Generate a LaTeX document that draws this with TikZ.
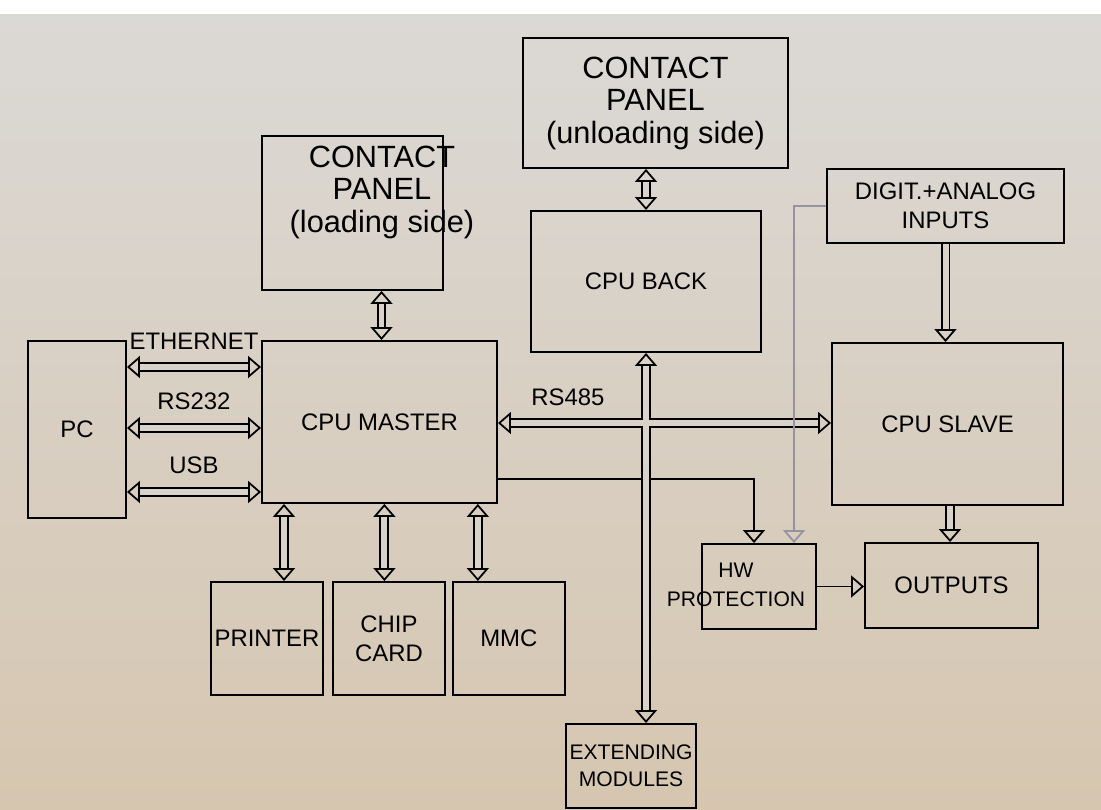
\documentclass[tikz,border=0pt]{standalone}
\usepackage{fontspec}
\setmainfont{Liberation Sans}
\usetikzlibrary{arrows.meta,positioning}

\definecolor{papertop}{RGB}{219,217,214}
\definecolor{papermid}{RGB}{217,210,200}
\definecolor{paperbot}{RGB}{214,198,176}
\definecolor{wire}{RGB}{150,146,160}

\begin{document}
\begin{tikzpicture}[
  x=0.02cm, y=-0.02cm,
  hollow/.tip={Triangle[open, length=0.26cm, width=0.44cm, line width=1pt]},
  box/.style={draw, line width=1.1pt, inner sep=2pt, align=center, font=\fontsize{13.6}{16.5}\selectfont},
  big/.style={align=center, font=\fontsize{17.5}{18.5}\selectfont},
  bus/.style={double=papermid, double distance=3.4pt, line width=1.1pt},
  darr/.style={bus, {hollow}-{hollow}},
  sbus/.style={bus, -{hollow}},
  sarr/.style={line width=1.1pt, -{hollow}},
  lbl/.style={font=\fontsize{13.6}{16}\selectfont}
]
\useasboundingbox (0,0) rectangle (1101,810);
\shade[top color=papertop, bottom color=paperbot] (0,0) rectangle (1101,810);
\fill[white] (0,0) rectangle (1101,14);

% boxes
\node[box, minimum width=1.96cm, minimum height=3.54cm] (pc) at (77,429.5) {PC};
\node[box, minimum width=4.7cm, minimum height=3.24cm] (master) at (379.5,422) {CPU MASTER};
\node[box, minimum width=3.62cm, minimum height=3.08cm] (loadpanel) at (352.5,213) {};
\node[big] (loadtext) at (382,192) {CONTACT\\PANEL\\(loading side)};
\node[box, big, minimum width=5.3cm, minimum height=2.6cm] (unloadpanel) at (655.5,103) {CONTACT\\PANEL\\(unloading side)};
\node[box, minimum width=4.6cm, minimum height=2.82cm] (back) at (646,281.5) {CPU BACK};
\node[box, minimum width=4.74cm, minimum height=1.48cm] (inputs) at (945.5,206) {DIGIT.+ANALOG\\INPUTS};
\node[box, minimum width=4.62cm, minimum height=3.24cm] (slave) at (947.5,424) {CPU SLAVE};
\node[box, minimum width=2.28cm, minimum height=1.7cm] (hw) at (759,586.5) {};
\node[align=center, font=\fontsize{12}{16.5}\selectfont] (hwtext) at (736,585) {HW\\PROTECTION};
\node[box, minimum width=3.46cm, minimum height=1.7cm] (outputs) at (951.5,585.5) {OUTPUTS};
\node[box, minimum width=2.24cm, minimum height=2.26cm] (printer) at (267,638.5) {PRINTER};
\node[box, minimum width=2.24cm, minimum height=2.26cm, right=0.16cm of printer] (chip) {CHIP\\CARD};
\node[box, minimum width=2.24cm, minimum height=2.26cm, right=0.12cm of chip] (mmc) {MMC};
\node[box, minimum width=2.56cm, minimum height=1.68cm, font=\fontsize{12}{15.5}\selectfont] (ext) at (631,766) {EXTENDING\\MODULES};

% PC links
\foreach \name/\dy in {ETHERNET/1.25, RS232/0.03, USB/-1.25}
  \draw[darr] ([yshift=\dy cm]pc.east) -- ([yshift=\dy cm]pc.east -| master.west)
    node[midway, above=0.22cm, lbl] {\name};

% buses
\draw[darr] ([xshift=0.04cm]master.north) -- ([xshift=0.04cm]master.north |- loadpanel.south);
\draw[darr] (back.north) -- (back.north |- unloadpanel.south);
\draw[sarr] ([yshift=-1.14cm]master.east) -| ([xshift=-0.1cm]hw.north);
\draw[darr] ([yshift=-0.02cm]master.east) -- ([yshift=-0.02cm]master.east -| slave.west)
  node[pos=0.21, above=0.2cm, lbl] {RS485};
\draw[darr] (back.south) -- (back.south |- ext.north);
\draw[papermid, line width=3.4pt, shorten <=0.4cm, shorten >=0.4cm] ([yshift=-0.02cm]master.east) -- ([yshift=-0.02cm]master.east -| slave.west);
\draw[papermid, line width=3.4pt, shorten <=0.4cm, shorten >=0.4cm] (back.south) -- (back.south |- ext.north);
\draw[sarr, wire] (inputs.west) -| ([xshift=0.7cm]hw.north);
\draw[sbus] (inputs.south) -- (inputs.south |- slave.north);
\draw[sbus] ([xshift=0.05cm]slave.south) -- ([xshift=0.05cm]slave.south |- outputs.north);
\draw[sarr] (hw.east) -- (hw.east -| outputs.west);

% peripherals
\draw[darr] ([xshift=0.34cm]printer.north) -- ([xshift=0.34cm]printer.north |- master.south);
\draw[darr] ([xshift=-0.09cm]chip.north) -- ([xshift=-0.09cm]chip.north |- master.south);
\draw[darr] ([xshift=-0.62cm]mmc.north) -- ([xshift=-0.62cm]mmc.north |- master.south);
\end{tikzpicture}
\end{document}
